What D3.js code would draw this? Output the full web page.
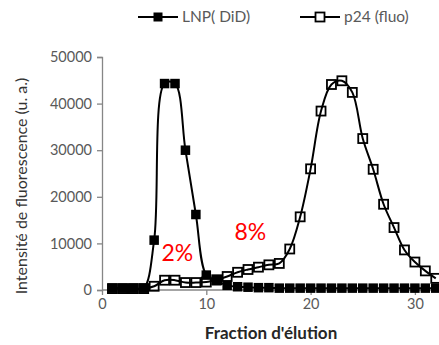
<!DOCTYPE html>
<html><head><meta charset="utf-8">
<script src="https://cdn.jsdelivr.net/npm/d3@7"></script>
<style>body{margin:0;background:#fff}svg{display:block}</style>
</head><body><svg id="c" width="439" height="345"></svg>
<script>
const fractions = d3.range(1, 33);
const lnpValues = [400,400,400,400,10700,44300,44300,30000,16200,3200,2000,1000,700,600,500,500,
  400,400,400,400,400,400,400,400,400,400,400,400,400,400,400,400];
const p24Values = [300,300,300,300,800,2100,2100,1600,1600,1700,2200,2900,3800,4400,4900,5400,
  5700,8800,15700,26000,38400,44100,44900,42400,32500,25900,18400,13400,8600,6000,4100,2500];
const xTicks = [0,10,20,30];
const yTicks = [0,10000,20000,30000,40000,50000];
const seriesNames = ["LNP( DiD)", "p24 (fluo)"];
const annotations = [{text:"2%", x:5.7, y:6300},{text:"8%", x:12.7, y:10700}];

const font = "Lato, 'Open Sans', sans-serif";
const svg = d3.select("#c");
const x = d3.scaleLinear().domain([0,33]).range([102, 102+33*10.43]);
const y = d3.scaleLinear().domain([0,50000]).range([290,57]);

// axes
const yAxis = svg.append("g").attr("transform","translate(102,0)")
  .call(d3.axisLeft(y).tickValues(yTicks).tickSize(5).tickPadding(5).tickFormat(d3.format("d")));
const xAxis = svg.append("g").attr("transform","translate(0,290)")
  .call(d3.axisBottom(x).tickValues(xTicks).tickSize(5).tickPadding(4).tickFormat(d3.format("d")));
[yAxis,xAxis].forEach(a=>{
  a.select(".domain").attr("stroke","#868686").attr("stroke-width",1.3);
  a.selectAll(".tick line").attr("stroke","#868686").attr("stroke-width",1.3);
  a.selectAll(".tick text").attr("fill","#595959").attr("font-family",font).attr("font-size",14.5);
});
xAxis.select(".domain").attr("d", `M102,0H439`);

const line = d3.line().x((d,i)=>x(fractions[i])).y(d=>y(d)).curve(d3.curveCatmullRom.alpha(0.5));
const sq = 9.5;

// LNP series
svg.append("path").attr("d", line(lnpValues)).attr("fill","none").attr("stroke","#000").attr("stroke-width",2);
svg.append("g").selectAll("rect").data(lnpValues).join("rect")
  .attr("x",(d,i)=>x(fractions[i])-sq/2).attr("y",d=>y(d)-sq/2)
  .attr("width",sq).attr("height",sq).attr("fill","#000");

// p24 series
svg.append("path").attr("d", line(p24Values)).attr("fill","none").attr("stroke","#000").attr("stroke-width",2);
svg.append("g").selectAll("rect").data(p24Values).join("rect")
  .attr("x",(d,i)=>x(fractions[i])-4.5).attr("y",d=>y(d)-4.5)
  .attr("width",9).attr("height",9).attr("fill","none").attr("stroke","#000").attr("stroke-width",1.8);

// annotations
svg.append("g").selectAll("text").data(annotations).join("text")
  .attr("x",d=>x(d.x)).attr("y",d=>y(d.y)).text(d=>d.text)
  .attr("fill","#ff0000").attr("font-family",font).attr("font-size",23);

// legend
const leg = svg.append("g");
[[138,true],[300,false]].forEach(([lx,filled],i)=>{
  leg.append("line").attr("x1",lx).attr("x2",lx+40).attr("y1",17).attr("y2",17).attr("stroke","#000").attr("stroke-width",2);
  leg.append("rect").attr("x",lx+15.5).attr("y",12.5).attr("width",9).attr("height",9)
    .attr("fill",filled?"#000":"#fff").attr("stroke","#000").attr("stroke-width",filled?0:1.8);
  leg.append("text").attr("x",lx+44).attr("y",22).text(seriesNames[i])
    .attr("fill","#595959").attr("font-family",font).attr("font-size",15.5);
});

// axis titles
svg.append("text").attr("transform","translate(27,186) rotate(-90)").attr("text-anchor","middle")
  .text("Intensité de fluorescence (u. a.)").attr("fill","#333").attr("font-family",font).attr("font-size",16);
svg.append("text").attr("x",271).attr("y",339).attr("text-anchor","middle")
  .text("Fraction d'élution").attr("fill","#262626").attr("font-family",font).attr("font-size",17).attr("font-weight","bold");
</script></body></html>
